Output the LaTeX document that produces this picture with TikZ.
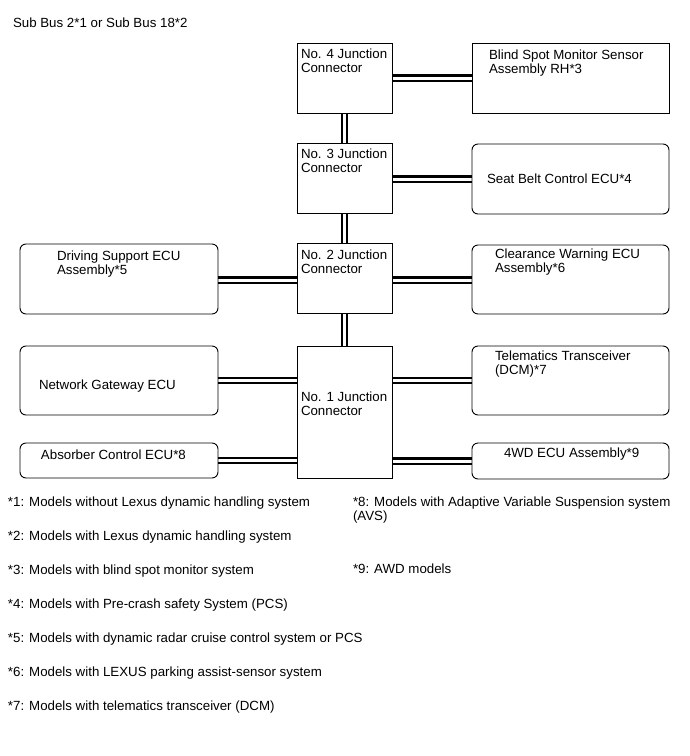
\documentclass[tikz,border=0pt]{standalone}
\usepackage{fontspec}
\setmainfont{Liberation Sans}
\usetikzlibrary{backgrounds}
\newcommand\mytwo[2]{\vtop{\hbox{#1}\hbox{#2}}}
\begin{document}
\begin{tikzpicture}[x=1pt,y=-1pt,
  box/.style={draw, line width=0.9pt, inner sep=0pt, outer sep=0pt, anchor=north west},
  rbox/.style={box, rounded corners=6pt},
  bus/.style={line width=2.3pt, double=white, double distance=3pt},
  lbl/.style={anchor=base west, inner sep=0pt, outer sep=0pt, font=\fontsize{13.3}{14.5}\selectfont}]
\useasboundingbox (0,0) rectangle (690,756);

% junction connectors
\node[box, minimum width=95pt, minimum height=70pt] (jc4) at (297,43) {};
\node[box, minimum width=95pt, minimum height=70pt] (jc3) at (297,143) {};
\node[box, minimum width=95pt, minimum height=70pt] (jc2) at (297,243) {};
\node[box, minimum width=95pt, minimum height=132pt] (jc1) at (297,346) {};

% left ECUs
\node[rbox, minimum width=198pt, minimum height=70pt] (ds) at (20,244) {};
\node[rbox, minimum width=198pt, minimum height=69pt] (ng) at (20,346) {};
\node[rbox, minimum width=198pt, minimum height=35pt] (abs) at (20,443) {};

% right ECUs
\node[box, minimum width=197pt, minimum height=70pt] (bsm) at (472,43) {};
\node[rbox, minimum width=197pt, minimum height=70pt] (sb) at (472,144) {};
\node[rbox, minimum width=197pt, minimum height=69pt] (cw) at (472,245) {};
\node[rbox, minimum width=197pt, minimum height=69pt] (tel) at (472,346) {};
\node[rbox, minimum width=197pt, minimum height=36pt] (wd) at (472,443) {};

\begin{scope}[on background layer]
\draw[bus] (jc4.south) -- (jc3.north);
\draw[bus] (jc3.south) -- (jc2.north);
\draw[bus] (jc2.south) -- (jc1.north);
\draw[bus] (jc4.east) -- (bsm.west);
\draw[bus] (jc3.east |- 0,179) -- (sb.west |- 0,179);
\draw[bus] (jc2.west |- 0,280) -- (ds.east |- 0,280);
\draw[bus] (jc2.east |- 0,280) -- (cw.west |- 0,280);
\draw[bus] (ng.east) -- (ng.east -| jc1.west);
\draw[bus] (tel.west) -- (tel.west -| jc1.east);
\draw[bus] (abs.east) -- (abs.east -| jc1.west);
\draw[bus] (wd.west) -- (wd.west -| jc1.east);
\end{scope}

% labels
\node[lbl] (ttitle) at (13,27) {Sub Bus 2*1 or Sub Bus 18*2};
\node[lbl] (tjc4) at (301,58) {\mytwo{No. 4 Junction}{Connector}};
\node[lbl] (tjc3) at (301,158) {\mytwo{No. 3 Junction}{Connector}};
\node[lbl] (tjc2) at (301,259) {\mytwo{No. 2 Junction}{Connector}};
\node[lbl] (tjc1) at (301,401) {\mytwo{No. 1 Junction}{Connector}};
\node[lbl] (tbsm) at (489,59) {\mytwo{Blind Spot Monitor Sensor}{Assembly RH*3}};
\node[lbl] (tsb) at (487,183) {Seat Belt Control ECU*4};
\node[lbl] (tcw) at (495,258) {\mytwo{Clearance Warning ECU}{Assembly*6}};
\node[lbl] (tds) at (57,260) {\mytwo{Driving Support ECU}{Assembly*5}};
\node[lbl] (tng) at (39,389) {Network Gateway ECU};
\node[lbl] (tabs) at (41,459) {Absorber Control ECU*8};
\node[lbl] (ttel) at (495,360) {\mytwo{Telematics Transceiver}{(DCM)*7}};
\node[lbl] (twd) at (504,457) {4WD ECU Assembly*9};

% footnotes
\node[lbl] (f1) at (8,506) {*1: Models without Lexus dynamic handling system};
\node[lbl] (f2) at (8,540) {*2: Models with Lexus dynamic handling system};
\node[lbl] (f3) at (8,574) {*3: Models with blind spot monitor system};
\node[lbl] (f4) at (8,608) {*4: Models with Pre-crash safety System (PCS)};
\node[lbl] (f5) at (8,642) {*5: Models with dynamic radar cruise control system or PCS};
\node[lbl] (f6) at (8,676) {*6: Models with LEXUS parking assist-sensor system};
\node[lbl] (f7) at (8,710) {*7: Models with telematics transceiver (DCM)};
\node[lbl] (f8) at (353,506) {\mytwo{*8: Models with Adaptive Variable Suspension system}{(AVS)}};
\node[lbl] (f9) at (353,573) {*9: AWD models};
\end{tikzpicture}
\end{document}
